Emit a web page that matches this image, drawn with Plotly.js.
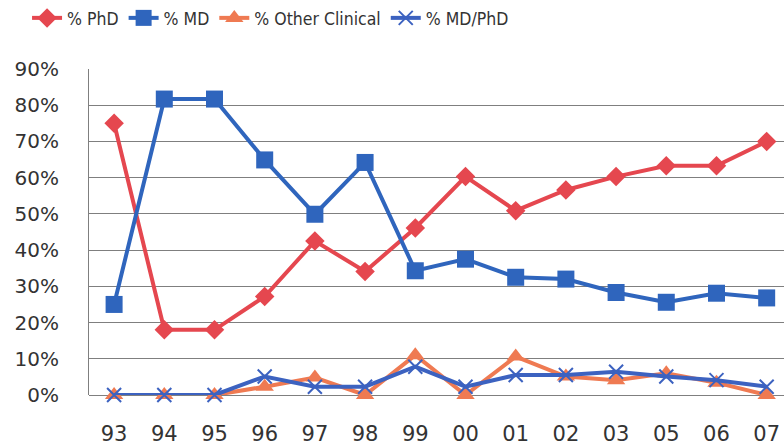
<!DOCTYPE html>
<html>
<head>
<meta charset="utf-8">
<script src="https://cdn.plot.ly/plotly-3.0.1.min.js"></script>
<style>html,body{margin:0;padding:0;background:#fff;}#chart{width:784px;height:446px;}</style>
</head>
<body>
<div id="chart"></div>
<script>
const years = ["93","94","95","96","97","98","99","00","01","02","03","05","06","07"];
const phd = [75, 18, 18, 27.2, 42.5, 34.1, 46.1, 60.3, 50.9, 56.6, 60.3, 63.3, 63.3, 70.0];
const md = [25, 81.7, 81.7, 64.9, 49.9, 64.2, 34.3, 37.5, 32.5, 32.0, 28.3, 25.6, 28.1, 26.8];
const otherClinical = [0, 0, 0, 2.3, 4.8, 0, 11.0, 0, 10.6, 5.1, 4.1, 6.0, 3.4, 0];
const mdPhd = [0, 0, 0, 5.1, 2.3, 2.3, 7.8, 2.3, 5.5, 5.5, 6.4, 5.1, 4.1, 2.3];

const idx = years.map((_, i) => i);
function tr(name, y, color, symbol, size, extra) {
  return Object.assign({
    type: 'scatter', mode: 'lines+markers', name: name,
    x: idx, y: y,
    line: {color: color, width: 4},
    marker: {color: color, symbol: symbol, size: size},
    cliponaxis: false
  }, extra || {});
}
const data = [
  tr('% PhD', phd, '#e5474f', 'diamond', 15),
  tr('% MD', md, '#2f65bd', 'square', 17),
  tr('% Other Clinical', otherClinical, '#ef7a52', 'triangle-up', 16),
  tr('% MD/PhD', mdPhd, '#3c62c0', 'x-thin', 14, {marker: {color: '#3c62c0', symbol: 'x-thin', size: 14, line: {color: '#3c62c0', width: 2}}})
];
const layout = {
  width: 784, height: 446,
  margin: {l: 89, r: 0, t: 69, b: 51},
  paper_bgcolor: '#fff', plot_bgcolor: '#fff',
  font: {family: 'DejaVu Sans, sans-serif', color: '#333'},
  showlegend: true,
  legend: {
    orientation: 'h', xref: 'container', yref: 'container',
    x: 0.0345, y: 1 - 18/446, xanchor: 'left', yanchor: 'middle',
    font: {family: 'DejaVu Sans Condensed, DejaVu Sans, sans-serif', size: 17.5, color: '#333'},
    itemwidth: 30, tracegroupgap: 0
  },
  xaxis: {
    range: [-0.5, 13.345],
    tickmode: 'array', tickvals: idx, ticktext: years,
    showgrid: false, zeroline: false, showline: false,
    ticks: '', ticklabelstandoff: 24,
    tickfont: {size: 21, color: '#333'}
  },
  yaxis: {
    range: [0, 90], dtick: 10, ticksuffix: '%',
    showgrid: true, gridcolor: '#7f7f7f', gridwidth: 1,
    zeroline: true, zerolinecolor: '#7f7f7f', zerolinewidth: 1,
    showline: true, linecolor: '#7f7f7f', linewidth: 1,
    ticks: '', ticklabelstandoff: 25,
    tickfont: {size: 20, color: '#333'}
  }
};
Plotly.newPlot('chart', data, layout, {displayModeBar: false, staticPlot: true});
</script>
</body>
</html>
